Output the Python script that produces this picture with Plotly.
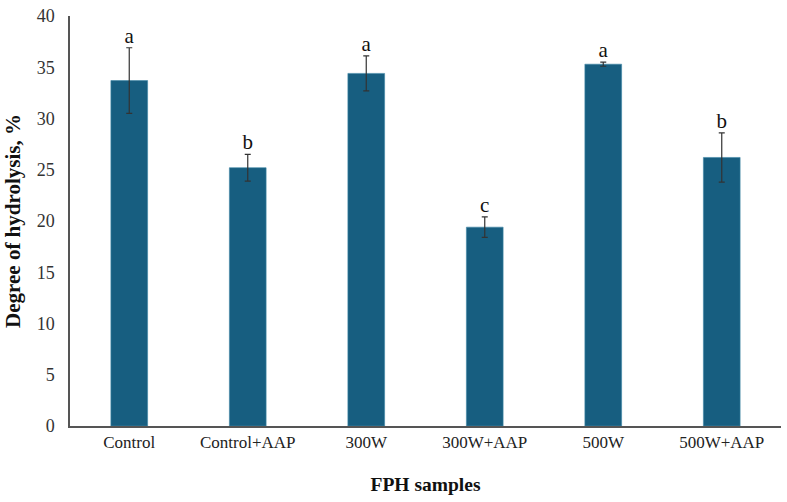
import plotly.graph_objects as go

categories = ["Control", "Control+AAP", "300W", "300W+AAP", "500W", "500W+AAP"]
values = [33.7, 25.2, 34.4, 19.4, 35.3, 26.2]
errors = [3.2, 1.3, 1.7, 1.0, 0.2, 2.4]
letters = ["a", "b", "a", "c", "a", "b"]
y_ticks = [0, 5, 10, 15, 20, 25, 30, 35, 40]

font_family = "Liberation Serif, Times New Roman, serif"

fig = go.Figure()
fig.add_trace(go.Bar(
    x=categories, y=values,
    marker=dict(color="#175E80", line=dict(color="#3F86A6", width=0.6)),
    width=0.31,
    error_y=dict(type="data", array=errors, visible=True, color="#333333", thickness=1.2, width=3),
    showlegend=False,
))
fig.add_trace(go.Scatter(
    x=categories, y=[v + e for v, e in zip(values, errors)],
    mode="text", text=letters, textposition="top center",
    textfont=dict(family=font_family, size=21, color="#111111"),
    showlegend=False, hoverinfo="skip",
))

fig.update_layout(
    width=787, height=502,
    margin=dict(l=70, r=6, t=12, b=76),
    paper_bgcolor="white", plot_bgcolor="white",
    font=dict(family=font_family, size=16, color="#222222"),
    bargap=0.69,
)
fig.update_xaxes(
    showline=True, linecolor="#555555", linewidth=1.5,
    showgrid=False, ticks="",
    tickfont=dict(family=font_family, size=17, color="#222222"),
    title=dict(text="<b>FPH samples</b>", font=dict(family=font_family, size=19.5, color="#111111"), standoff=26),
)
fig.update_yaxes(
    range=[0, 40], tickvals=y_ticks,
    showline=True, linecolor="#555555", linewidth=1.5,
    showgrid=False, ticks="", zeroline=False,
    tickfont=dict(family=font_family, size=18, color="#333333"),
    ticklabelstandoff=10,
    title=dict(text="<b>Degree of hydrolysis, %</b>", font=dict(family=font_family, size=21, color="#111111"), standoff=10),
)

fig.write_html("out.html")
